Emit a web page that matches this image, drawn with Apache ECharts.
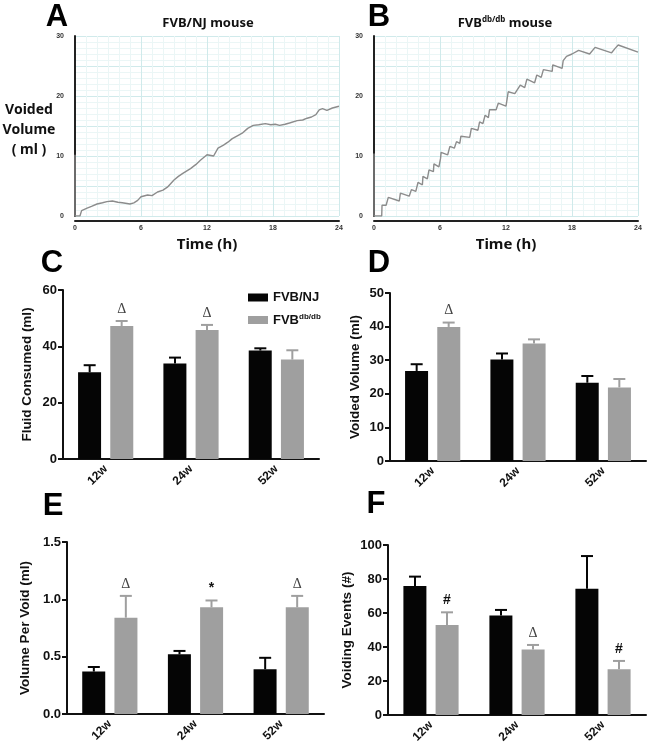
<!DOCTYPE html>
<html lang="en">
<head>
<meta charset="UTF-8">
<title>Voiding behaviour</title>
<script src="https://cdn.jsdelivr.net/npm/echarts@6/dist/echarts.min.js"></script>
<style>html,body{margin:0;padding:0;background:#fff;}</style>
</head>
<body>
<div id="main" style="width:649px;height:750px;"></div>
<script type="text/javascript">
// A / B: cumulative voided volume over 24 h, [hour, ml]
var curveNJ = [[0,10.2],[0,0],[0.45,0],[0.6,0.9],[1.1,1.3],[1.5,1.6],[2,2.0],[2.5,2.2],[2.9,2.4],[3.4,2.5],
  [3.9,2.3],[4.3,2.2],[5,2.0],[5.35,2.2],[5.7,2.6],[6,3.2],[6.6,3.5],[7,3.4],[7.5,4.0],[8,4.3],[8.4,4.8],
  [9,6.0],[9.4,6.6],[9.8,7.1],[10.5,7.9],[11,8.6],[11.4,9.3],[12,10.2],[12.6,10.0],[13,11.3],[13.5,11.8],
  [13.9,12.3],[14.3,12.9],[14.8,13.4],[15.2,13.8],[15.7,14.6],[16.2,15.1],[16.7,15.2],[17.3,15.4],[17.8,15.2],
  [18.2,15.3],[18.6,15.1],[19.1,15.3],[19.5,15.5],[20.2,15.9],[20.7,16.0],[21.1,16.3],[21.5,16.5],[21.9,16.9],
  [22.2,17.7],[22.5,17.9],[22.9,17.6],[23.4,18.0],[24,18.3]];
var curveDB = [[0,10.4],[0,0],[0.7,0],[0.73,1.8],[1.1,1.8],[1.3,3.1],[2.3,2.5],[2.4,3.8],[3.2,3.3],[3.4,4.4],
  [3.8,4.1],[4.0,5.6],[4.4,5.2],[4.45,6.6],[4.85,6.2],[5.0,7.7],[5.4,7.4],[5.45,8.7],[5.9,8.2],[6.05,9.6],
  [6.1,10.6],[6.7,10.2],[6.9,11.6],[7.3,11.3],[7.5,12.4],[7.8,12.1],[7.9,13.3],[8.7,13.1],[8.85,14.6],
  [9.45,14.3],[9.6,15.7],[9.9,15.4],[10.1,16.8],[10.4,16.4],[10.5,17.7],[11.1,17.7],[11.3,18.8],[12.0,18.3],
  [12.2,20.7],[12.8,20.4],[13.3,21.8],[13.7,21.4],[13.9,22.8],[14.6,22.2],[14.8,23.5],[15.2,23.1],[15.4,24.4],
  [16.2,24.1],[16.25,25.2],[17.1,24.6],[17.2,25.9],[17.5,26.6],[18.0,27.0],[18.6,27.6],[19.6,27.0],[20.1,28.1],
  [21.6,27.2],[21.9,27.9],[22.2,28.5],[24,27.3]];

// C-F: means and SEM per age group
var weeks = ['12w', '24w', '52w'];
var fluidNJ = [30.8, 33.9, 38.5], fluidNJSem = [2.5, 2.1, 0.8];
var fluidDB = [47.2, 45.8, 35.3], fluidDBSem = [1.8, 1.8, 3.3];
var fluidMarks = ['Δ', 'Δ', ''];
var voidedNJ = [26.8, 30.2, 23.3], voidedNJSem = [2.0, 1.8, 2.0];
var voidedDB = [39.9, 35.0, 21.9], voidedDBSem = [1.3, 1.2, 2.5];
var voidedMarks = ['Δ', '', ''];
var perVoidNJ = [0.37, 0.52, 0.39], perVoidNJSem = [0.04, 0.03, 0.10];
var perVoidDB = [0.84, 0.93, 0.93], perVoidDBSem = [0.19, 0.06, 0.10];
var perVoidMarks = ['Δ', '*', 'Δ'];
var eventsNJ = [75.9, 58.6, 74.3], eventsNJSem = [5.5, 3.2, 19.2];
var eventsDB = [52.9, 38.6, 26.9], eventsDBSem = [7.5, 2.6, 4.9];
var eventsMarks = ['#', 'Δ', '#'];

var BLACK = '#050505', GREY = '#9f9f9f';
var NJ = 'FVB/NJ', DB = 'FVBdb/db';
var sans = 'Liberation Sans, Arial, sans-serif';

var myChart = echarts.init(document.getElementById('main'));

var grids = [
  {left: 75, top: 36, width: 264, height: 180},
  {left: 374, top: 36, width: 264, height: 180},
  {left: 63, top: 290, width: 256, height: 169},
  {left: 390, top: 293, width: 256, height: 168},
  {left: 67, top: 542, width: 257, height: 172},
  {left: 388, top: 545, width: 258, height: 170}
];

function timeX(i) {
  return {
    gridIndex: i, type: 'value', min: 0, max: 24, interval: 6, offset: 5,
    name: 'Time (h)', nameLocation: 'middle', nameGap: 16,
    nameTextStyle: {fontFamily: 'Noto Sans', fontWeight: 'bold', fontSize: 15, color: '#111'},
    axisLine: {show: true, onZero: false, lineStyle: {color: '#222', width: 2}},
    axisTick: {show: false},
    axisLabel: {fontSize: 7, fontWeight: 'bold', color: '#333', margin: 4},
    splitLine: {show: true, lineStyle: {color: '#d0eaeb', width: 1}},
    minorTick: {show: false, splitNumber: 6},
    minorSplitLine: {show: true, lineStyle: {color: '#ebf6f6', width: 1}}
  };
}
function volY(i) {
  return {
    gridIndex: i, type: 'value', min: 0, max: 30, interval: 5, offset: 7,
    axisLine: {show: true, lineStyle: {color: '#222', width: 2}},
    axisTick: {show: false},
    axisLabel: {fontSize: 7, fontWeight: 'bold', color: '#333', margin: 4,
      formatter: function (v) { return v % 10 === 0 ? v : ''; }},
    splitLine: {show: true, lineStyle: {color: '#d0eaeb', width: 1}},
    minorTick: {show: false, splitNumber: 5},
    minorSplitLine: {show: true, lineStyle: {color: '#ebf6f6', width: 1}}
  };
}
function weekX(i) {
  return {
    gridIndex: i, type: 'category', data: weeks,
    axisLine: {lineStyle: {color: '#111', width: 2}},
    axisTick: {alignWithLabel: true, length: 5, lineStyle: {color: '#111', width: 2}},
    axisLabel: {rotate: 45, fontFamily: sans, fontWeight: 'bold', fontSize: 12, color: '#111', margin: 8}
  };
}
function barY(i, max, step, name, gap, dec) {
  return {
    gridIndex: i, type: 'value', min: 0, max: max, interval: step,
    name: name, nameLocation: 'middle', nameGap: gap, nameRotate: 90,
    nameTextStyle: {fontFamily: sans, fontWeight: 'bold', fontSize: 13.5, color: '#111'},
    axisLine: {show: true, lineStyle: {color: '#111', width: 2}},
    axisTick: {show: true, length: 5, lineStyle: {color: '#111', width: 2}},
    axisLabel: {fontFamily: sans, fontWeight: 'bold', fontSize: 13, color: '#111', margin: 6,
      formatter: function (v) { return dec ? v.toFixed(1) : v; }},
    splitLine: {show: false}
  };
}

function bars(name, i, vals, color) {
  return {name: name, type: 'bar', xAxisIndex: i, yAxisIndex: i, data: vals,
    barWidth: 23, barGap: '40%', itemStyle: {color: color}, z: 2};
}
// one-sided SEM bars plus significance marks, drawn over the bars
function errs(name, i, vals, sem, color, shift, marks) {
  return {
    name: name, type: 'custom', xAxisIndex: i, yAxisIndex: i, z: 3, silent: true,
    encode: {x: 0, y: [1, 2]},
    data: vals.map(function (v, k) { return [k, v, v + sem[k]]; }),
    renderItem: function (params, api) {
      var base = api.coord([api.value(0), api.value(1)]);
      var top = api.coord([api.value(0), api.value(2)]);
      var x = base[0] + shift;
      var kids = [
        {type: 'line', shape: {x1: x, y1: base[1], x2: x, y2: top[1]}, style: {stroke: color, lineWidth: 2}},
        {type: 'line', shape: {x1: x - 6, y1: top[1], x2: x + 6, y2: top[1]}, style: {stroke: color, lineWidth: 2}}
      ];
      var m = marks ? marks[params.dataIndex] : '';
      if (m) {
        kids.push({type: 'text', x: x, y: top[1] - 12, style: {
          text: m, align: 'center', verticalAlign: 'middle',
          font: m === 'Δ' ? '14px Liberation Serif, serif' : 'bold 14px Liberation Sans, Arial, sans-serif',
          fill: m === 'Δ' ? '#444' : '#111'}});
      }
      return {type: 'group', children: kids};
    }
  };
}

function panelLetter(t, x, y) {
  return {type: 'text', x: x, y: y, style: {text: t, font: 'bold 31px Liberation Sans, Arial, sans-serif',
    fill: '#000', align: 'center', verticalAlign: 'middle'}};
}

var series = [
  {type: 'line', xAxisIndex: 0, yAxisIndex: 0, data: curveNJ, showSymbol: false, silent: true,
    lineStyle: {color: '#8c8c8c', width: 1.4}},
  {type: 'line', xAxisIndex: 1, yAxisIndex: 1, data: curveDB, showSymbol: false, silent: true,
    lineStyle: {color: '#8c8c8c', width: 1.4}},
  bars(NJ, 2, fluidNJ, BLACK), bars(DB, 2, fluidDB, GREY),
  errs(NJ, 2, fluidNJ, fluidNJSem, BLACK, -16), errs(DB, 2, fluidDB, fluidDBSem, GREY, 16, fluidMarks),
  bars(NJ, 3, voidedNJ, BLACK), bars(DB, 3, voidedDB, GREY),
  errs(NJ, 3, voidedNJ, voidedNJSem, BLACK, -16), errs(DB, 3, voidedDB, voidedDBSem, GREY, 16, voidedMarks),
  bars(NJ, 4, perVoidNJ, BLACK), bars(DB, 4, perVoidDB, GREY),
  errs(NJ, 4, perVoidNJ, perVoidNJSem, BLACK, -16), errs(DB, 4, perVoidDB, perVoidDBSem, GREY, 16, perVoidMarks),
  bars(NJ, 5, eventsNJ, BLACK), bars(DB, 5, eventsDB, GREY),
  errs(NJ, 5, eventsNJ, eventsNJSem, BLACK, -16), errs(DB, 5, eventsDB, eventsDBSem, GREY, 16, eventsMarks)
];

myChart.setOption({
  animation: false,
  backgroundColor: '#fff',
  grid: grids,
  xAxis: [timeX(0), timeX(1), weekX(2), weekX(3), weekX(4), weekX(5)],
  yAxis: [volY(0), volY(1),
    barY(2, 60, 20, 'Fluid Consumed (ml)', 29),
    barY(3, 50, 10, 'Voided Volume (ml)', 28),
    barY(4, 1.5, 0.5, 'Volume Per Void (ml)', 35, true),
    barY(5, 100, 20, 'Voiding Events (#)', 34)],
  legend: {
    data: [NJ, DB], orient: 'vertical', left: 243, top: 286,
    icon: 'rect', itemWidth: 20, itemHeight: 8, itemGap: 9,
    textStyle: {fontFamily: sans, fontWeight: 'bold', fontSize: 13, color: '#111',
      rich: {s: {fontFamily: sans, fontWeight: 'bold', fontSize: 8, color: '#111', verticalAlign: 'top', padding: [0, 0, 6, 0]}}},
    formatter: function (n) { return n === DB ? 'FVB{s|db/db}' : n; }
  },
  graphic: [
    panelLetter('A', 57, 17), panelLetter('B', 379, 17),
    panelLetter('C', 52, 263), panelLetter('D', 379, 263),
    panelLetter('E', 53, 506), panelLetter('F', 376, 504),
    {type: 'text', x: 208, y: 23, style: {text: 'FVB/NJ mouse', font: 'bold 13px Noto Sans, sans-serif',
      fill: '#111', align: 'center', verticalAlign: 'middle'}},
    {type: 'text', x: 505, y: 23, style: {text: 'FVB{s|db/db} mouse', font: 'bold 13px Noto Sans, sans-serif',
      fill: '#111', align: 'center', verticalAlign: 'middle',
      rich: {s: {font: 'bold 8px Noto Sans, sans-serif', fill: '#111', padding: [0, 0, 7, 0]}}}},
    {type: 'text', x: 29, y: 130, style: {text: 'Voided\nVolume\n( ml )', font: 'bold 14px Noto Sans, sans-serif',
      fill: '#111', align: 'center', verticalAlign: 'middle', lineHeight: 20}}
  ],
  series: series
});
</script>
</body>
</html>
